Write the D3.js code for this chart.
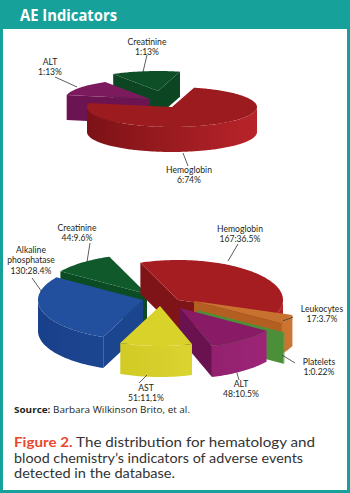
<!DOCTYPE html>
<html><head><meta charset="utf-8">
<script src="https://cdn.jsdelivr.net/npm/d3@7"></script>
<style>body{margin:0;background:#fff}svg{display:block}</style>
</head><body>
<svg id="c" width="350" height="493"></svg>
<script>
// ---------- DATA ----------
const topCategories = ["Hemoglobin", "ALT", "Creatinine"];
const topCounts = [6, 1, 1];
const topPercents = [74, 13, 13];
const topPercentLabels = ["74%", "13%", "13%"];

const bottomCategories = ["Hemoglobin", "Leukocytes", "Platelets", "ALT", "AST", "Alkaline phosphatase", "Creatinine"];
const bottomCounts = [167, 17, 1, 48, 51, 130, 44];
const bottomPercents = [36.5, 3.7, 0.22, 10.5, 11.1, 28.4, 9.6];
const bottomPercentLabels = ["36.5%", "3.7%", "0.22%", "10.5%", "11,1%", "28.4%", "9.6%"];

// ---------- STYLE / LAYOUT ----------
const palette = {
  topHemoglobin:  {top:"#9b1b1f", cut:"#821418", wall:["#7c1216","#b8242a"]},
  topALT:         {top:"#7c1a5e", cut:"#6c1452", wall:["#6c1452","#8a1f6a"]},
  topCreatinine:  {top:"#0f4f27", cut:"#0c4522", wall:["#0c4522","#135c2e"]},
  Hemoglobin:     {top:"#a51d21", cut:"#7e1418", wall:["#86161a","#b32127"]},
  Leukocytes:     {top:"#c8722f", cut:"#b35f22", wall:["#b35f22","#cc7633"]},
  Platelets:      {top:"#4f953b", cut:"#4b9038", wall:["#458534","#55a040"]},
  ALT:            {top:"#891b66", cut:"#6a1150", wall:["#7a165b","#a0267a"]},
  AST:            {top:"#d9d22a", cut:"#c9c11c", wall:["#cbc31b","#e2dc3c"]},
  "Alkaline phosphatase": {top:"#234f9f", cut:"#1c458f", wall:["#19408a","#2654a3"]},
  Creatinine:     {top:"#0f592b", cut:"#0c4c24", wall:["#0c4c24","#136532"]}
};

const topPieCfg = {cx:172, cy:107, rx:85, ry:20, h:25, startDeg:15,
  offsets:[[0,0],[-22,-8],[-14,-16]]};
const bottomPieCfg = {cx:165, cy:308, rx:105, ry:40, h:31, startDeg:-21,
  offsets:[[13,-8],[29,-7],[32,2],[15,0],[-5,-2],[-22,-8],[-18,-14]]};

const topLabelLayout = [
  {x:189, y:173, line:[[183,153],[188,166]]},
  {x:50,  y:65,  line:[[55,77],[77,87]]},
  {x:147, y:45,  line:[[147,55],[143,72]]}
];
const bottomLabelLayout = [
  {x:240, y:232, line:[[238,244],[228,261]]},
  {x:322, y:312, line:[[293,317],[283,321]]},
  {x:319, y:365, line:[[295,363],[282,355]]},
  {x:241, y:387, line:[[239,380],[237,373]]},
  {x:146, y:391, line:[[139,383],[147,375]]},
  {x:31,  y:253, line:[[32,278],[42,292]]},
  {x:77,  y:231, line:[[90,243],[87,262]]}
];

const svg = d3.select("#c");
const defs = svg.append("defs");
const FONT = "'Open Sans', 'Noto Sans', sans-serif";
const LABEL_FONT = "Lato, 'Open Sans', sans-serif";

// frame
svg.append("rect").attr("width",350).attr("height",493).attr("fill","#17a19b");
svg.append("rect").attr("x",3).attr("y",29).attr("width",344).attr("height",461).attr("fill","#ffffff");
svg.append("text").attr("x",20).attr("y",21).attr("fill","#fff")
  .attr("font-family",FONT).attr("font-weight",700).attr("font-size",16.5)
  .attr("textLength",97).attr("lengthAdjust","spacingAndGlyphs").text("AE Indicators");

let gradId = 0;
function drawPie3D(cfg, cats, values, styleKeys) {
  const g = svg.append("g");
  const pie = d3.pie().sort(null).value(d => d)
    .startAngle(cfg.startDeg * Math.PI/180).endAngle(cfg.startDeg * Math.PI/180 + 2*Math.PI);
  const arcs = pie(values);
  const xs = d3.scaleLinear().domain([-1,1]).range([-cfg.rx, cfg.rx]);
  const ys = d3.scaleLinear().domain([-1,1]).range([-cfg.ry, cfg.ry]);
  const line = d3.line();
  const slices = arcs.map((a,i) => {
    const a1 = a.startAngle - Math.PI/2, a2 = a.endAngle - Math.PI/2;
    return {i, a1, a2, off:cfg.offsets[i], depth:Math.sin((a1+a2)/2), st:palette[styleKeys[i]]};
  });
  const P = (s, a, dz) => [cfg.cx + s.off[0] + xs(Math.cos(a)), cfg.cy + s.off[1] + ys(Math.sin(a)) + dz];
  const C = (s, dz) => [cfg.cx + s.off[0], cfg.cy + s.off[1] + dz];
  const arcPts = (s, a1, a2, dz) => {
    const n = Math.max(2, Math.ceil(Math.abs(a2-a1)/0.02));
    return d3.range(n+1).map(k => P(s, a1 + (a2-a1)*k/n, dz));
  };
  slices.slice().sort((a,b) => a.depth - b.depth).forEach(s => {
    const sg = g.append("g");
    const faces = [];
    if (Math.cos(s.a1) < 0) faces.push(s.a1);
    if (Math.cos(s.a2) > 0) faces.push(s.a2);
    faces.sort((u,v) => Math.sin(u) - Math.sin(v));
    faces.forEach(a => {
      sg.append("path").attr("d", line([C(s,0), P(s,a,0), P(s,a,cfg.h), C(s,cfg.h)]) + "Z")
        .attr("fill", s.st.cut);
    });
    const id = "g" + (gradId++);
    const gr = defs.append("linearGradient").attr("id", id).attr("gradientUnits","userSpaceOnUse")
      .attr("x1", cfg.cx - cfg.rx + s.off[0]).attr("x2", cfg.cx + cfg.rx + s.off[0]).attr("y1",0).attr("y2",0);
    gr.append("stop").attr("offset","0").attr("stop-color", s.st.wall[0]);
    gr.append("stop").attr("offset","1").attr("stop-color", s.st.wall[1]);
    for (let k = -2; k <= 2; k++) {
      const lo = Math.max(s.a1, 2*Math.PI*k), hi = Math.min(s.a2, 2*Math.PI*k + Math.PI);
      if (hi > lo) {
        const topE = arcPts(s, lo, hi, 0), botE = arcPts(s, hi, lo, cfg.h);
        sg.append("path").attr("d", line(topE.concat(botE)) + "Z").attr("fill", `url(#${id})`);
      }
    }
    sg.append("path").attr("d", line([C(s,0)].concat(arcPts(s, s.a1, s.a2, 0))) + "Z")
      .attr("fill", s.st.top);
  });
}

function drawLabels(cats, counts, pctLabels, layout) {
  const g = svg.append("g");
  cats.forEach((c,i) => {
    const L = layout[i];
    g.append("path").attr("d", d3.line()(L.line)).attr("stroke","#333").attr("stroke-width",0.8).attr("fill","none");
    const lines = c === "Alkaline phosphatase" ? ["Alkaline","phosphatase"] : [c];
    lines.push(counts[i] + ":" + pctLabels[i]);
    lines.forEach((ln,j) => g.append("text").attr("font-family",LABEL_FONT).attr("font-size",8.6)
      .attr("fill","#231f20").attr("text-anchor","middle")
      .attr("x",L.x).attr("y",L.y + j*10.4).text(ln));
  });
}

drawPie3D(topPieCfg, topCategories, topPercents, ["topHemoglobin","topALT","topCreatinine"]);
drawLabels(topCategories, topCounts, topPercentLabels, topLabelLayout);
drawPie3D(bottomPieCfg, bottomCategories, bottomPercents, bottomCategories);
drawLabels(bottomCategories, bottomCounts, bottomPercentLabels, bottomLabelLayout);

// source
const src = svg.append("text").attr("x",14).attr("y",413).attr("font-family",FONT).attr("font-size",9.4)
  .attr("fill","#231f20").attr("textLength",176).attr("lengthAdjust","spacingAndGlyphs");
src.append("tspan").attr("font-weight",700).text("Source:");
src.append("tspan").text(" Barbara Wilkinson Brito, et al.");

// caption
const capLines = [
  [["Figure 2.", true], [" The distribution for hematology and", false]],
  [["blood chemistry\u2019s indicators of adverse events", false]],
  [["detected in the database.", false]]
];
const capWidths = [301, 289, 161];
capLines.forEach((ln, j) => {
  const t = svg.append("text").attr("x",14).attr("y",447 + j*15.5).attr("font-family",LABEL_FONT)
    .attr("font-size",12.8).attr("fill","#333").attr("textLength",capWidths[j]).attr("lengthAdjust","spacingAndGlyphs");
  ln.forEach(([txt,b]) => {
    const ts = t.append("tspan").text(txt);
    if (b) ts.attr("font-weight",700).attr("fill","#e8482d");
  });
});
</script>
</body></html>
